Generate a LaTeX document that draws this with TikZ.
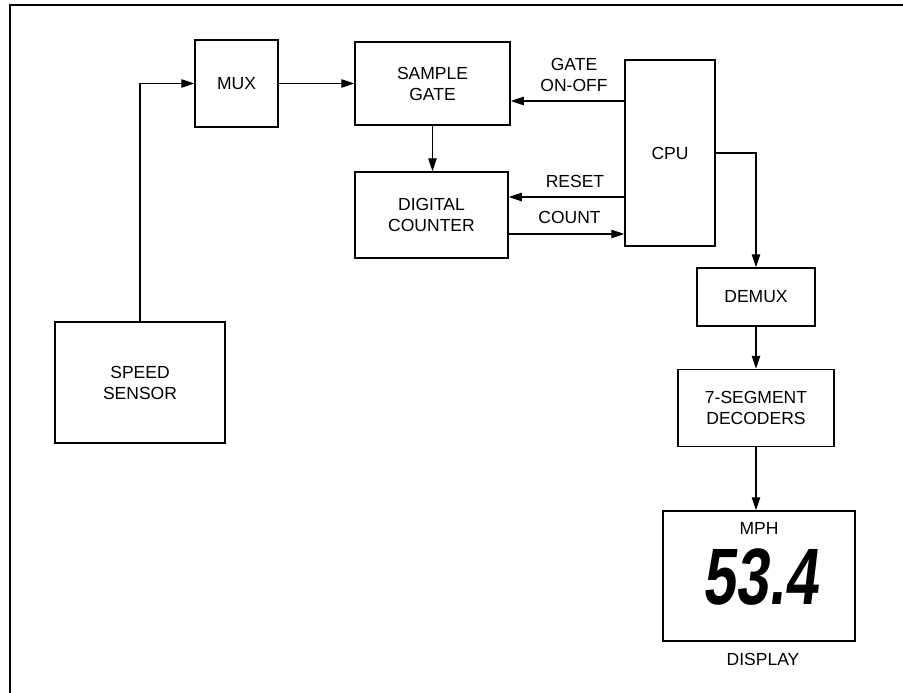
\documentclass[tikz,border=0pt]{standalone}
\usepackage{fontspec}
\setmainfont{Liberation Sans}
\newfontfamily\lcdfont[FakeSlant=0.12,FakeStretch=0.74]{Liberation Sans Bold}
\usetikzlibrary{arrows.meta, positioning}

\begin{document}
\begin{tikzpicture}[
    x=1pt, y=1pt,
    box/.style={rectangle, draw, line width=1.5pt, align=center, inner sep=0pt, font=\fontsize{17.5}{21}\selectfont},
    arrow/.style={-{Triangle[length=13pt,width=8.5pt]}, line width=1.2pt},
    lbl/.style={align=center, font=\fontsize{17.5}{21}\selectfont}
]
\useasboundingbox (0,0) rectangle (903,-693);
\draw[line width=2pt] (10,-693) -- (10,-5.5) -- (903,-5.5);

\node[box, minimum width=170pt, minimum height=121pt] (speed) at (140,-382.5) {SPEED\\SENSOR};
\node[box, minimum width=83pt, minimum height=87pt] (mux) at (236.5,-83.5) {MUX};
\node[box, minimum width=155pt, minimum height=83pt] (sample) at (432.5,-83.5) {SAMPLE\\GATE};
\node[box, minimum width=153pt, minimum height=86pt] (counter) at (431.5,-215) {DIGITAL\\COUNTER};
\node[box, minimum width=90pt, minimum height=186pt] (cpu) at (670,-153) {CPU};
\node[box, minimum width=118pt, minimum height=58pt] (demux) at (756,-297) {DEMUX};
\node[box, minimum width=156pt, minimum height=77pt, below=42pt of demux] (decoders) {7-SEGMENT\\DECODERS};
\node[box, minimum width=192pt, minimum height=130pt, below=63pt of decoders, xshift=3pt] (display) {};

\node[lbl] (mph) at (759,-528) {MPH};
\node[lbl, font=\lcdfont\fontsize{80}{80}\selectfont] (reading) at (760,-577) {53.4};
\node[lbl] (displbl) at (763,-659) {DISPLAY};

\node[lbl] (gatelbl) at (574,-75) {GATE\\ON-OFF};
\node[lbl] (resetlbl) at (575,-181) {RESET};
\node[lbl] (countlbl) at (569.5,-217) {COUNT};

\draw[arrow] (speed.north) |- (mux.west);
\draw[arrow] (mux.east) -- (sample.west);
\draw[arrow] ([yshift=52pt]cpu.west) -- ([yshift=-17.5pt]sample.east);
\draw[arrow] (sample.south) -- (sample.south |- counter.north);
\draw[arrow] ([yshift=-44pt]cpu.west) -- ([yshift=18pt]counter.east);
\draw[arrow] ([yshift=-19pt]counter.east) -- ([yshift=-81pt]cpu.west);
\draw[arrow] (cpu.east) -| (demux.north);
\draw[arrow] (demux.south) -- (demux.south |- decoders.north);
\draw[arrow] (decoders.south) -- (decoders.south |- display.north);

\end{tikzpicture}
\end{document}
